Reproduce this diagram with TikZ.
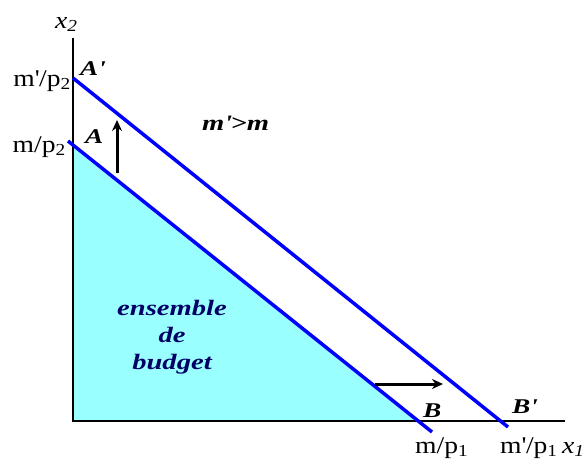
\documentclass[tikz,border=0pt]{standalone}
\usepackage{fontspec}
\setmainfont{Liberation Serif}
\newfontfamily\ticksfont[FakeStretch=1.15]{Liberation Serif}
\newfontfamily\pointsfont[FakeStretch=1.3]{Liberation Serif}
\usetikzlibrary{arrows.meta}
\definecolor{budgetfill}{HTML}{99FFFF}
\definecolor{budgetline}{HTML}{0000FF}
\definecolor{budgettext}{HTML}{000066}

\begin{document}
\begin{tikzpicture}[x=1pt, y=-1pt]
        % Frame of the picture (pixel units, y pointing down)
        \useasboundingbox (0,0) rectangle (585,459);

        \tikzset{
            budget/.style={draw=budgetline, line width=3.5pt},
            movearrow/.style={-{Stealth[length=11pt,width=10pt]}, line width=3pt},
            ticklabel/.style={inner sep=0pt, font=\ticksfont\fontsize{24}{24}\selectfont},
            pointlabel/.style={inner sep=0pt, font=\pointsfont\fontsize{21}{21}\selectfont\bfseries\itshape}
        }

        % Axes
        \coordinate (O) at (73,421);
        \coordinate (ytop) at (73,38);
        \coordinate (xend) at (565,421);

        % Budget lines (old and new income)
        \coordinate (A) at (73,145);
        \coordinate (B) at (418,421);
        \coordinate (Astart) at (68,141);
        \coordinate (Bend) at (432,432);
        \coordinate (Ap) at (73,78);
        \coordinate (Bpend) at (508,427);

        % Budget set
        \filldraw[budgetfill] (A) -- (O) -- (B) -- cycle;

        \draw[line width=1.5pt] (ytop) -- (O) -- (xend);

        \draw[budget] (Astart) -- (Bend);
        \draw[budget] (Ap) -- (Bpend);

        % Shift of the line
        \coordinate (upfrom) at (117,173);
        \coordinate (upto) at (117,120);
        \coordinate (rightfrom) at (375,384);
        \coordinate (rightto) at (443,384);
        \draw[movearrow] (upfrom) -- (upto);
        \draw[movearrow] (rightfrom) -- (rightto);

        % Labels
        \node[ticklabel, anchor=base east] (ylab1) at (71,86) {m\textquotesingle/p\textsubscript{2}};
        \node[ticklabel, anchor=base east] (ylab0) at (66,152) {m/p\textsubscript{2}};
        \node[ticklabel, anchor=base west] (xlab0) at (415,453) {m/p\textsubscript{1}};
        \node[ticklabel, anchor=base west] (xlab1) at (500,453) {m\textquotesingle/p\textsubscript{1}};
        \node[ticklabel, anchor=base west] (xaxis) at (562,453) {\itshape x\textsubscript{1}};
        \node[ticklabel, anchor=base west] (yaxis) at (55,28) {\itshape x\textsubscript{2}};

        \node[pointlabel, anchor=base west] (lA) at (85,143) {A};
        \node[pointlabel, anchor=base west] (lAp) at (80,75) {A\textquotesingle};
        \node[pointlabel, anchor=base west] (lB) at (423,417) {B};
        \node[pointlabel, anchor=base west] (lBp) at (512,413) {B\textquotesingle};
        \node[pointlabel, anchor=base west, font=\pointsfont\fontsize{22}{22}\selectfont\bfseries\itshape] (cond) at (202,130) {m\textquotesingle{}>m};

        \node[pointlabel, text=budgettext, align=center, font=\pointsfont\fontsize{22}{27}\selectfont\bfseries\itshape] (set) at (172,337) {ensemble\\de\\budget};
    \end{tikzpicture}
\end{document}
